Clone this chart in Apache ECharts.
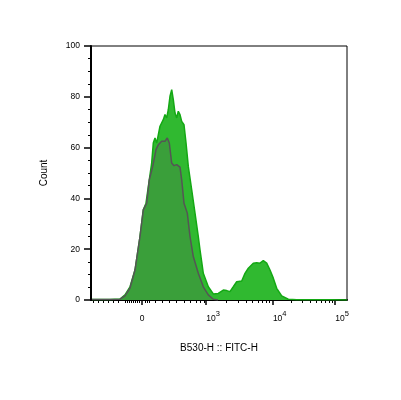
<!DOCTYPE html>
<html><head><meta charset="utf-8">
<script src="https://cdn.jsdelivr.net/npm/echarts@6/dist/echarts.min.js"></script>
<style>html,body{margin:0;padding:0;background:#fff}#c{width:401px;height:400px}</style>
</head><body><div id="c"></div>
<script>
// Display channel units on the x axis (biexponential display scale, 0..256)
const brightX = [1,19,29,34,39,44,49,52.3,55,58.3,60.7,62.3,64,65.7,69,72.3,74,75.7,77.3,79,80.7,82.3,84,85.7,87.3,89,90.7,93,95,97.3,100.7,104,107.3,109,110.7,112.3,117.3,122.3,127.3,132.3,135.7,139,142.3,145.7,150.7,154,157.3,162.3,165.7,169,172.3,175.7,179,182.3,185.7,190.7,197.3,205.7,240,256];
const brightY = [0.2,0.2,0.4,2.0,5.2,11.8,25.0,35.5,38.1,47.3,54.0,61.8,63.8,61.8,68.4,71.0,73.0,71.7,74.9,80.2,82.8,78.9,73.6,71.7,74.3,73.0,70.3,69.0,61.9,52.6,43.4,34.2,25.0,19.7,15.0,10.5,5.2,2.4,2.6,3.9,3.7,3.3,5.2,7.2,7.5,10.5,12.5,14.5,14.7,14.5,15.5,14.5,11.8,8.6,4.6,1.6,0.3,0.1,0.05,0];
const darkX = [1,19,29,34,39,44,49,52.3,55.7,58.3,61.7,65,67.3,70.7,72.3,74,76.3,78.3,80.7,83,85.7,89,90.7,93,96.3,99,102.3,107.3,112.3,117.3,122.3,127];
const darkY = [0.2,0.2,0.3,1.6,4.7,11.8,25.0,35.5,38.1,47.3,52.6,59.2,61.1,62.5,63.1,62.5,63.8,61.8,53.9,52.9,53.3,52.3,47.3,38.1,34.2,25.0,17.1,10.5,5.2,2.0,0.3,0];

// Axis ticks (display channel units) and labels
const majorTicks = [51, 115, 181.7, 244];
const majorLabels = ['0', '3', '4', '5'];
const linearMinorTicks = [2,7,12,17,22,27,34,36,38,40,42,44,46,48,54,56,58,64,71.7,78.3,85.7,93,99,105.7,109.7,113];
const decadeSteps = [2,3,4,5,6,7,8,9];

const minorTicks = linearMinorTicks.slice();
for (let i = 1; i < majorTicks.length - 1; i++) {
  const a = majorTicks[i], b = majorTicks[i + 1];
  decadeSteps.forEach(k => minorTicks.push(+(a + (b - a) * Math.log10(k)).toFixed(2)));
}

const toPairs = (xs, ys) => xs.map((x, i) => [x, ys[i]]);
const FONT = 'Liberation Sans, Arial, Helvetica, sans-serif';

const chart = echarts.init(document.getElementById('c'), null, {renderer: 'canvas'});
chart.setOption({
  backgroundColor: '#fff',
  animation: false,
  grid: {left: 91, right: 54, top: 46, bottom: 100, show: true, borderColor: '#000', borderWidth: 1, backgroundColor: 'transparent', outerBoundsMode: 'none'},
  xAxis: [{
    type: 'value', min: 0, max: 256, position: 'bottom',
    axisLine: {show: true, onZero: false, lineStyle: {color: '#000', width: 2}},
    axisTick: {show: true, customValues: majorTicks, length: 5, lineStyle: {color: '#000', width: 1.5}},
    axisLabel: {
      show: true, customValues: majorTicks, margin: 9, color: '#000', fontFamily: FONT, fontSize: 8.5,
      formatter: function (v) {
        const i = majorTicks.indexOf(v);
        if (i === 0) return '{b|' + majorLabels[0] + '}';
        return '{p|}{b|10}{s|' + majorLabels[i] + '}';
      },
      rich: {
        p: {width: 14, fontSize: 8.5, lineHeight: 20},
        b: {fontSize: 8.5, fontFamily: FONT, color: '#000', lineHeight: 20},
        s: {fontSize: 7.5, fontFamily: FONT, color: '#000', lineHeight: 10, padding: [0, 0, 10, 0]}
      }
    },
    splitLine: {show: false},
    name: 'B530-H :: FITC-H', nameLocation: 'middle', nameGap: 43,
    nameTextStyle: {fontSize: 10, color: '#000', fontFamily: FONT}
  }, {
    type: 'value', min: 0, max: 256, position: 'bottom', gridIndex: 0,
    axisLine: {show: false},
    axisTick: {show: true, customValues: minorTicks, length: 3, lineStyle: {color: '#000', width: 1}},
    axisLabel: {show: false},
    splitLine: {show: false}
  }],
  yAxis: {
    type: 'value', min: 0, max: 100, interval: 20,
    axisLine: {show: true, lineStyle: {color: '#000', width: 2}},
    axisTick: {show: true, length: 7, lineStyle: {color: '#000', width: 1.5}},
    minorTick: {show: true, splitNumber: 4, length: 3, lineStyle: {color: '#000', width: 1}},
    axisLabel: {color: '#000', fontSize: 8.5, fontFamily: FONT, margin: 11},
    splitLine: {show: false},
    minorSplitLine: {show: false},
    name: 'Count', nameLocation: 'middle', nameRotate: 90, nameGap: 42,
    nameTextStyle: {fontSize: 10, color: '#000', fontFamily: FONT}
  },
  series: [{
    type: 'line', name: 'sample', xAxisIndex: 0, data: toPairs(brightX, brightY),
    showSymbol: false, smooth: false, z: 2,
    lineStyle: {color: '#14a814', width: 1.5},
    areaStyle: {color: '#30b930', opacity: 1}
  }, {
    type: 'line', name: 'control', xAxisIndex: 0, data: toPairs(darkX, darkY),
    showSymbol: false, smooth: false, z: 3,
    lineStyle: {color: '#555555', width: 1.5},
    areaStyle: {color: '#3a9f3a', opacity: 1}
  }]
});
</script>
</body></html>
